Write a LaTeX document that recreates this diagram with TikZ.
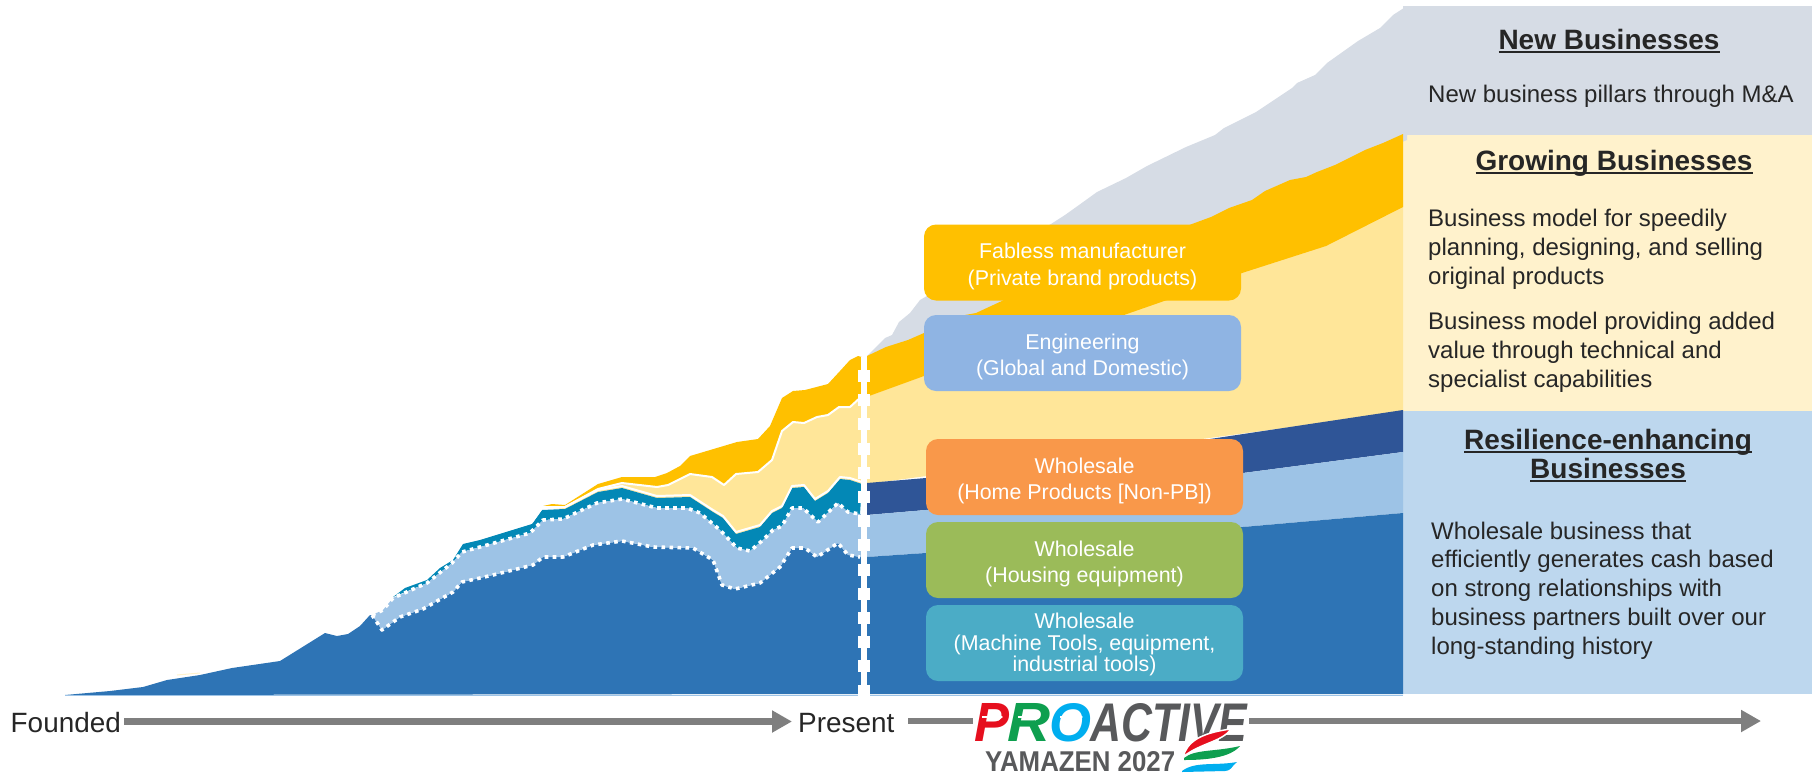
\documentclass[tikz,border=0pt]{standalone}
\usepackage{fontspec}
\usepackage{graphicx}
\setmainfont{Liberation Sans}
\usetikzlibrary{arrows.meta}
\definecolor{dkblue}{HTML}{2E74B5}
\definecolor{ltblue}{HTML}{9DC3E6}
\definecolor{navy}{HTML}{2F5597}
\definecolor{tealband}{HTML}{0388B6}
\definecolor{gold}{HTML}{FFC000}
\definecolor{ltyellow}{HTML}{FFE699}
\definecolor{greyband}{HTML}{D6DCE5}
\definecolor{panelyellow}{HTML}{FFF2CC}
\definecolor{panelblue}{HTML}{BDD7EE}
\definecolor{boxeng}{HTML}{8FB4E3}
\definecolor{boxorange}{HTML}{F9984A}
\definecolor{boxgreen}{HTML}{9BBB59}
\definecolor{boxteal}{HTML}{4BACC6}
\definecolor{txt}{HTML}{262626}
\definecolor{axisgrey}{HTML}{7F7F7F}
\definecolor{logogrey}{HTML}{58595B}
\definecolor{logored}{HTML}{E60F1E}
\definecolor{logogreen}{HTML}{0E9F4F}
\definecolor{logoblue}{HTML}{00AEEF}
\newcommand{\myul}[1]{\setbox0=\hbox{#1}\rlap{\raisebox{-3.6pt}{\rule{\wd0}{1.4pt}}}\box0 }
\newcommand{\padA}{\rule{0pt}{23.5pt}}
\newcommand{\padB}{\rule{0pt}{18.5pt}}
\def\toplower{(372,615) -- (382,630) -- (400,617) -- (423,609) -- (453,592) -- (462,582) -- (480,578) -- (493,575) -- (533,565) -- (543,557) -- (563,557) -- (593,545) -- (622,541) -- (653,547) -- (693,548) -- (713,560) -- (722,585) -- (735,589) -- (760,583) -- (780,567) -- (792,548) -- (805,548) -- (817,557) -- (838,543) -- (848,555) -- (860,557)}
\def\topupper{(372,615) -- (383,610) -- (393,598) -- (427,583) -- (452,563) -- (462,552) -- (480,547) -- (530,533) -- (543,520) -- (563,519) -- (597,503) -- (622,499) -- (657,508) -- (687,508) -- (700,513) -- (720,530) -- (737,548) -- (750,551) -- (763,540) -- (773,530) -- (782,526) -- (792,508) -- (803,508) -- (818,522) -- (838,503) -- (848,512) -- (860,514)}
\def\topteal{(393,597) -- (405,588) -- (427,580) -- (440,568) -- (453,560) -- (463,544) -- (480,540) -- (532,524) -- (542,510) -- (565,509) -- (598,492) -- (622,488) -- (657,498) -- (690,497) -- (713,512) -- (723,518) -- (736,534) -- (760,527) -- (772,513) -- (782,508) -- (792,488) -- (804,487) -- (815,501) -- (828,493) -- (840,479) -- (850,480) -- (862,484)}
\def\topyellow{(543,507) -- (565,507) -- (598,489) -- (622,483) -- (657,487) -- (668,485) -- (678,480) -- (690,474) -- (712,477) -- (724,485) -- (736,474) -- (758,472) -- (772,460) -- (782,431) -- (793,422) -- (804,423) -- (817,417) -- (828,415) -- (839,407) -- (850,407) -- (862,396)}
\def\topgold{(543,506) -- (552,504) -- (565,505) -- (598,484) -- (622,477) -- (655,477) -- (667,473) -- (680,466) -- (690,456) -- (737,442) -- (758,439) -- (770,426) -- (782,398) -- (793,391) -- (805,390) -- (828,384) -- (840,371) -- (850,360) -- (858,356) -- (862,357)}
\tikzset{
  bizbox/.style={rounded corners=12pt,minimum width=317pt,minimum height=76pt,inner sep=0pt,align=center,text=white,
    font=\fontsize{21.4}{26.5}\selectfont},
  headtext/.style={inner sep=0pt,align=center,text=txt,anchor=base,font=\fontsize{28}{29}\selectfont\bfseries},
  bodytext/.style={inner sep=0pt,align=left,text=txt,anchor=base west,font=\fontsize{24}{28.7}\selectfont},
  axistext/.style={inner sep=0pt,text=txt,anchor=base west,font=\fontsize{27.9}{30}\selectfont},
  axisline/.style={draw=axisgrey,line width=6.5pt},
  axisarrow/.style={axisline,-{Triangle[length=20pt,width=21pt]}},
  logotext/.style={inner sep=0pt,anchor=south west},
  logoarrow/.style={draw=white,line width=1.6pt,-{Triangle[length=5pt,width=7pt]}}
}
\begin{document}
\begin{tikzpicture}[x=1pt,y=-1pt,line join=round]
\useasboundingbox (0,0) rectangle (1814,774);
% right-hand panels
\fill[greyband] (1403,6) rectangle (1812,135);
\fill[panelyellow] (1403,135) rectangle (1812,411);
\fill[panelblue] (1403,411) rectangle (1812,694);
% forecast bands
\fill[greyband] (867,356) -- (885,338) -- (892,335) -- (899,322) -- (910,313) -- (920,300) -- (1051,224) -- (1065,215) -- (1079,205) -- (1097,192) -- (1126,178) -- (1147,166) -- (1186,147) -- (1215,135) -- (1224,128) -- (1256,112) -- (1292,88) -- (1297,83) -- (1315,75) -- (1327,63) -- (1358,41) -- (1380,28) -- (1393,15) -- (1407,6) -- (1407,140) -- (867,360) -- cycle;
\fill[ltyellow] (867,396) -- (1400,200) -- (1403,200) -- (1403,412) -- (867,484) -- cycle;
\fill[gold] (867,356) -- (886,347) -- (908,340) -- (924,333) -- (965,315) -- (976,313) -- (1004,300) -- (1192,224) -- (1211,217) -- (1229,208) -- (1252,200) -- (1265,191) -- (1290,180) -- (1306,177) -- (1317,172) -- (1335,165) -- (1365,150) -- (1383,143) -- (1403,134) -- (1403,207) -- (1326,246) -- (1242,273) -- (1167,300) -- (1124,315) -- (924,376) -- (869,396) -- (867,396) -- cycle;
\fill[navy] (867,483) -- (926,478) -- (1210,439) -- (1403,410) -- (1403,452) -- (1243,473) -- (926,510) -- (867,515) -- cycle;
\fill[ltblue] (867,515) -- (926,510) -- (1243,473) -- (1403,452) -- (1403,513) -- (1243,527) -- (926,553) -- (867,557) -- cycle;
\fill[dkblue] (867,557) -- (926,553) -- (1243,527) -- (1403,513) -- (1403,694) -- (867,694) -- cycle;
% history bands
\fill[gold] \topgold -- (862,396) -- (850,407) -- (839,407) -- (828,415) -- (817,417) -- (804,423) -- (793,422) -- (782,431) -- (772,460) -- (758,472) -- (736,474) -- (724,485) -- (712,477) -- (690,474) -- (678,480) -- (668,485) -- (657,487) -- (622,483) -- (598,489) -- (565,507) -- cycle;
\fill[ltyellow] \topyellow -- (862,484) -- (850,480) -- (840,479) -- (828,493) -- (815,501) -- (804,487) -- (792,488) -- (782,508) -- (772,513) -- (760,527) -- (736,534) -- (723,518) -- (713,512) -- (690,497) -- (657,498) -- (622,488) -- (598,492) -- (565,509) -- cycle;
\draw[white,line width=2pt] \topyellow;
\fill[tealband] \topteal -- (860,514) -- (848,512) -- (838,503) -- (818,522) -- (803,508) -- (792,508) -- (782,526) -- (773,530) -- (763,540) -- (750,551) -- (737,548) -- (720,530) -- (700,513) -- (687,508) -- (657,508) -- (622,499) -- (597,503) -- (563,519) -- (543,520) -- (530,533) -- (480,547) -- (462,552) -- (452,563) -- (427,583) -- cycle;
\draw[white,line width=2pt] (532,522) -- (542,508) -- (565,507) -- (598,490) -- (622,486) -- (657,496) -- (690,495) -- (713,510) -- (723,516) -- (736,532) -- (760,525) -- (772,511) -- (782,506) -- (792,486) -- (804,485) -- (815,499) -- (828,491) -- (840,477) -- (850,478) -- (862,482);
\fill[dkblue] (65,695) -- (110,691) -- (143,687) -- (167,680) -- (200,675) -- (232,668) -- (280,661) -- (325,633) -- (337,636) -- (348,634) -- (360,626) -- (370,615) -- (372,615) -- (382,630) -- (400,617) -- (423,609) -- (453,592) -- (462,582) -- (480,578) -- (493,575) -- (533,565) -- (543,557) -- (563,557) -- (593,545) -- (622,541) -- (653,547) -- (693,548) -- (713,560) -- (722,585) -- (735,589) -- (760,583) -- (780,567) -- (792,548) -- (805,548) -- (817,557) -- (838,543) -- (848,555) -- (861,557) -- (861,694) -- cycle;
\fill[ltblue] \topupper -- (861,514) -- (861,557) -- (860,557) -- (848,555) -- (838,543) -- (817,557) -- (805,548) -- (792,548) -- (780,567) -- (760,583) -- (735,589) -- (722,585) -- (713,560) -- (693,548) -- (653,547) -- (622,541) -- (593,545) -- (563,557) -- (543,557) -- (533,565) -- (493,575) -- (480,578) -- (462,582) -- (453,592) -- (423,609) -- (400,617) -- (382,630) -- cycle;
\draw[white,line width=3.6pt,dash pattern=on 3.6pt off 4.4pt] \toplower;
\draw[white,line width=3.6pt,dash pattern=on 3.6pt off 4.4pt] \topupper;
\draw[panelyellow,line width=1pt] (177,675) -- (200,673);
\draw[ltblue,line width=1pt] (65,695) -- (1403,695);
% present divider
\draw[white,line width=6pt] (863.5,357) -- (863.5,696);
\draw[white,line width=12pt,dash pattern=on 12pt off 12.2pt] (863.5,370) -- (863.5,696);
% business boxes
\node[bizbox,fill=gold] (fabless) at (1082.5,262.5) {\padA Fabless manufacturer\\(Private brand products)};
\node[bizbox,fill=boxeng] (engineering) at (1082.5,353) {\padA Engineering\\(Global and Domestic)};
\node[bizbox,fill=boxorange] (home) at (1084.5,477) {\padA Wholesale\\(Home Products [Non-PB])};
\node[bizbox,fill=boxgreen] (housing) at (1084.5,560) {\padA Wholesale\\(Housing equipment)};
\node[bizbox,fill=boxteal,font=\fontsize{21.4}{21.8}\selectfont] (tools) at (1084.5,643) {\padB Wholesale\\(Machine Tools, equipment,\\industrial tools)};
% panel text
\node[headtext] (newhead) at (1609,49) {\myul{New Businesses}};
\node[bodytext] (newbody) at (1428,102) {New business pillars through M\&A};
\node[headtext] (growhead) at (1614,170) {\myul{Growing Businesses}};
\node[bodytext] (growa) at (1428,284) {Business model for speedily\\planning, designing, and selling\\original products};
\node[bodytext] (growb) at (1428,387) {Business model providing added\\value through technical and\\specialist capabilities};
\node[headtext] (reshead) at (1608,478) {\myul{Resilience-enhancing}\\\myul{Businesses}};
\node[bodytext] (resbody) at (1431,654) {Wholesale business that\\efficiently generates cash based\\on strong relationships with\\business partners built over our\\long-standing history};
% time axis
\node[axistext] (founded) at (10.5,732) {Founded};
\node[axistext] (present) at (798,732) {Present};
\coordinate (axisA) at (124,721.5);
\coordinate (axisB) at (792,721.5);
\coordinate (axisC) at (908,721);
\coordinate (axisD) at (973,721);
\coordinate (axisE) at (1249,721);
\coordinate (axisF) at (1761,721);
\draw[axisarrow] (axisA) -- (axisB);
\draw[axisline] (axisC) -- (axisD);
\draw[axisarrow] (axisE) -- (axisF);
% logo
\node[logotext,text=logored] (logoP) at (974,742) {\resizebox{35pt}{38pt}{\bfseries\itshape P}};
\node[logotext,text=logogreen] (logoR) at (1007,742) {\resizebox{43pt}{38pt}{\bfseries\itshape R}};
\node[logotext,text=logoblue] (logoO) at (1049,742) {\resizebox{42pt}{38pt}{\bfseries\itshape O}};
\node[logotext,text=logogrey] (logoactive) at (1090,742) {\resizebox{157pt}{38pt}{\bfseries\itshape ACTIVE}};
\node[logotext,text=logogrey] (logoyear) at (985,772) {\resizebox{190pt}{20pt}{\bfseries YAMAZEN 2027}};
\draw[logoarrow] (982,717) -- (1003,717);
\draw[logoarrow] (1018,717) -- (1040,717);
\draw[logoarrow] (1060,717) -- (1083,717);
\filldraw[fill=logored,draw=white,line width=1.5pt] (1183,757) .. controls (1187,742) and (1200,733) .. (1231,729) .. controls (1222,742) and (1200,743) .. (1183,757) -- cycle;
\fill[logogreen] (1184,758) .. controls (1195,749) and (1215,752) .. (1240,746) .. controls (1230,758) and (1205,760) .. (1184,760) -- cycle;
\fill[logoblue] (1182,771) .. controls (1195,761) and (1215,766) .. (1237,762) .. controls (1230,768) and (1232,770) .. (1225,771) -- (1182,772) -- cycle;
\end{tikzpicture}
\end{document}
